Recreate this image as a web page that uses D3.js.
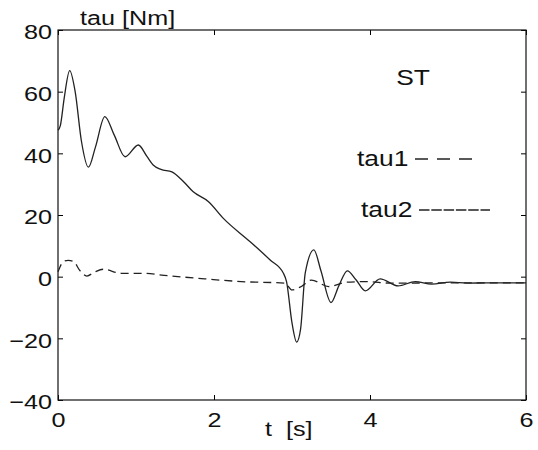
<!DOCTYPE html>
<html>
<script src="https://d3js.org/d3.v7.min.js"></script>

<head>
    <style>
        body {
            margin: 0;
            background-color: white;
            font-family: "Liberation Sans", Arial, Helvetica, sans-serif;
        }

        svg {
            display: block;
        }
    </style>
</head>

<body>
</body>
<script>
    const width = 538,
        height = 450;

    // t [s] and torque [Nm]
    const tau2T = [0, 0.03, 0.08, 0.15, 0.22, 0.30, 0.39, 0.48, 0.60, 0.72, 0.86, 1.03, 1.14, 1.22, 1.32, 1.46,
        1.61, 1.73, 1.93, 2.12, 2.46, 2.72, 2.89, 2.93, 3.00, 3.06, 3.11, 3.17, 3.28, 3.37, 3.50, 3.60, 3.71,
        3.82, 3.94, 4.13, 4.36, 4.58, 4.79, 5.03, 5.25, 5.5, 6.0];
    const tau2V = [47.5, 49, 58, 66.8, 60, 44, 35.5, 42, 51.9, 46, 38.9, 42.7, 39, 36.2, 34.8, 34,
        30.8, 27.6, 24.3, 18.9, 11.4, 5.4, 1.1, -1.6, -15, -21.2, -17, 1.2, 8.7, 2, -8.4, -3, 1.9,
        -1, -4.6, -0.7, -3.0, -1.6, -2.4, -1.8, -2.1, -2.0, -2.0];

    const tau1T = [0, 0.07, 0.13, 0.2, 0.28, 0.37, 0.47, 0.58, 0.81, 1.07, 1.41, 1.88, 2.35, 2.91, 3.0, 3.12,
        3.25, 3.47, 3.70, 3.96, 4.26, 5.0, 6.0];
    const tau1V = [1.6, 4.9, 5.3, 4.9, 2, 0.2, 1.5, 2.4, 1.1, 1.1, 0.3, -0.7, -1.6, -2.1, -4.3, -3.2,
        -1.1, -3.2, -1.8, -1.6, -2.1, -2.0, -2.0];

    const xTicks = [0, 2, 4, 6];
    const yTicks = [-40, -20, 0, 20, 40, 60, 80];

    const plotLeft = 58, plotRight = 526, plotTop = 30, plotBottom = 400;
    const stretch = 1.2; // the scanned lettering is wide

    const svg = d3.select("body").append("svg").attr("width", width).attr("height", height);

    const x = d3.scaleLinear().domain([0, 6]).range([plotLeft, plotRight]);
    const y = d3.scaleLinear().domain([-40, 80]).range([plotBottom, plotTop]);

    const minus = d => d < 0 ? "\u2212" + Math.abs(d) : String(d);

    // axes, ticks pointing inwards
    svg.append("g")
        .attr("transform", `translate(${plotLeft},0)`)
        .call(d3.axisLeft(y).tickValues(yTicks).tickFormat(minus).tickSizeInner(-5).tickSizeOuter(0).tickPadding(6))
        .call(g => g.select(".domain").remove())
        .call(g => g.selectAll("text")
            .attr("font-size", 21)
            .attr("font-family", null)
            .attr("fill", "#111")
            .attr("dy", "0.42em")
            .attr("x", -6 / stretch)
            .attr("transform", `scale(${stretch},1)`));
    svg.append("g")
        .attr("transform", `translate(${plotRight},0)`)
        .call(d3.axisRight(y).tickValues(yTicks).tickFormat("").tickSizeInner(-5).tickSizeOuter(0))
        .call(g => g.select(".domain").remove());
    svg.append("g")
        .attr("transform", `translate(0,${plotBottom})`)
        .call(d3.axisBottom(x).tickValues(xTicks).tickFormat(d3.format("d")).tickSizeInner(-5).tickSizeOuter(0).tickPadding(12))
        .call(g => g.select(".domain").remove())
        .call(g => g.selectAll("text")
            .attr("font-size", 21)
            .attr("font-family", null)
            .attr("fill", "#111")
            .attr("transform", `scale(${stretch},1)`));
    svg.append("g")
        .attr("transform", `translate(0,${plotTop})`)
        .call(d3.axisTop(x).tickValues(xTicks).tickFormat("").tickSizeInner(-5).tickSizeOuter(0))
        .call(g => g.select(".domain").remove());

    svg.append("rect")
        .attr("x", plotLeft)
        .attr("y", plotTop)
        .attr("width", plotRight - plotLeft)
        .attr("height", plotBottom - plotTop)
        .attr("fill", "none")
        .attr("stroke", "#111")
        .attr("stroke-width", 1.2);

    const line = d3.line()
        .x(d => x(d[0]))
        .y(d => y(d[1]))
        .curve(d3.curveMonotoneX);

    svg.append("path")
        .datum(d3.zip(tau1T, tau1V))
        .attr("fill", "none")
        .attr("stroke", "#222")
        .attr("stroke-width", 1.3)
        .attr("stroke-dasharray", "8,5")
        .attr("d", line);

    svg.append("path")
        .datum(d3.zip(tau2T, tau2V))
        .attr("fill", "none")
        .attr("stroke", "#222")
        .attr("stroke-width", 1.3)
        .attr("d", line);

    function label(txt, px, py, size, anchor) {
        svg.append("text")
            .attr("transform", `translate(${px},${py}) scale(${stretch},1)`)
            .attr("font-size", size)
            .attr("text-anchor", anchor || "start")
            .attr("fill", "#111")
            .style("white-space", "pre")
            .text(txt);
    }

    label("tau [Nm]", 80, 25, 21);
    label("t  [s]", 265, 436, 21);
    label("ST", 413, 85, 22, "middle");
    label("tau1", 357, 166, 22);
    label("tau2", 361, 217, 22);

    // legend line samples
    svg.append("line")
        .attr("x1", 415).attr("x2", 472)
        .attr("y1", 159).attr("y2", 159)
        .attr("stroke", "#222")
        .attr("stroke-width", 1.5)
        .attr("stroke-dasharray", "13,9");
    svg.append("line")
        .attr("x1", 419).attr("x2", 490)
        .attr("y1", 210).attr("y2", 210)
        .attr("stroke", "#222")
        .attr("stroke-width", 1.5)
        .attr("stroke-dasharray", "10.5,1.8");
</script>

</html>
